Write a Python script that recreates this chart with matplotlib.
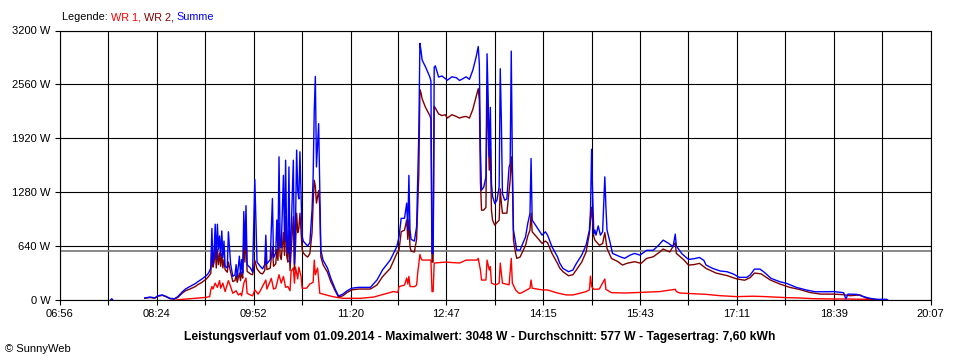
import numpy as np
import matplotlib
matplotlib.use("Agg")
import matplotlib.pyplot as plt

plt.rcParams['font.family'] = ['Liberation Sans', 'DejaVu Sans']
plt.rcParams['font.size'] = 8

# --- data (time, watt) ---
x_labels = ["06:56", "08:24", "09:52", "11:20", "12:47", "14:15",
            "15:43", "17:11", "18:39", "20:07"]
y_ticks = [0, 640, 1280, 1920, 2560, 3200]
average = 577

wr1 = [("08:42", 0), ("08:49", 10), ("08:59", 20), ("09:08", 30), ("09:12", 40),
       ("09:13", 120), ("09:14", 160), ("09:15", 130), ("09:17", 200), ("09:19", 150),
       ("09:21", 230), ("09:22", 140), ("09:24", 200), ("09:26", 100), ("09:29", 230),
       ("09:31", 160), ("09:33", 80), ("09:36", 110), ("09:38", 60), ("09:40", 80),
       ("09:41", 50), ("09:43", 200), ("09:45", 260), ("09:46", 80), ("09:49", 60),
       ("09:51", 50), ("09:53", 120), ("09:56", 70), ("09:58", 110), ("10:03", 237),
       ("10:04", 130), ("10:08", 257), ("10:10", 130), ("10:12", 140), ("10:15", 300),
       ("10:17", 200), ("10:19", 280), ("10:21", 150), ("10:23", 160), ("10:25", 110),
       ("10:26", 340), ("10:28", 380), ("10:29", 200), ("10:30", 390), ("10:32", 250),
       ("10:33", 390), ("10:35", 280), ("10:36", 140), ("10:40", 140), ("10:43", 190),
       ("10:46", 210), ("10:47", 474), ("10:48", 300), ("10:50", 380), ("10:51", 240),
       ("10:52", 80), ("10:58", 60), ("11:04", 39), ("11:13", 20), ("11:29", 20),
       ("11:41", 35), ("11:53", 79), ("11:59", 100), ("12:03", 90), ("12:04", 158),
       ("12:09", 178), ("12:11", 260), ("12:12", 190), ("12:13", 280), ("12:14", 160),
       ("12:18", 158), ("12:20", 178), ("12:21", 320), ("12:23", 541), ("12:24", 494),
       ("12:25", 474), ("12:33", 474), ("12:34", 100), ("12:35", 100), ("12:36", 439),
       ("12:46", 450), ("12:59", 439), ("13:05", 474), ("13:15", 474), ("13:16", 494),
       ("13:18", 356), ("13:19", 237), ("13:23", 237), ("13:24", 474), ("13:26", 356),
       ("13:27", 395), ("13:28", 200), ("13:32", 180), ("13:35", 200), ("13:36", 439),
       ("13:38", 200), ("13:44", 180), ("13:46", 494), ("13:47", 200), ("13:50", 119),
       ("13:53", 79), ("13:55", 83), ("14:00", 119), ("14:03", 140), ("14:04", 237),
       ("14:05", 140), ("14:14", 120), ("14:19", 119), ("14:28", 83), ("14:36", 60),
       ("14:42", 60), ("14:48", 79), ("14:54", 100), ("14:57", 120), ("14:58", 284),
       ("14:59", 160), ("15:01", 127), ("15:06", 130), ("15:11", 249), ("15:12", 127),
       ("15:17", 87), ("15:30", 83), ("15:52", 95), ("16:01", 100), ("16:15", 127),
       ("16:16", 100), ("16:19", 83), ("16:32", 75), ("16:43", 67), ("16:56", 51),
       ("17:11", 40), ("17:26", 45), ("17:37", 40), ("17:56", 28), ("18:08", 24),
       ("18:20", 16), ("18:39", 12), ("18:51", 12), ("19:09", 8), ("19:18", 0)]

wr2 = [("08:13", 20), ("08:18", 30), ("08:22", 20), ("08:25", 45), ("08:29", 55),
       ("08:32", 40), ("08:36", 15), ("08:40", 10), ("08:43", 30), ("08:47", 80),
       ("08:50", 110), ("08:54", 130), ("08:59", 160), ("09:01", 180), ("09:05", 210),
       ("09:09", 250), ("09:11", 280), ("09:13", 316), ("09:14", 630), ("09:15", 390),
       ("09:16", 450), ("09:17", 630), ("09:18", 380), ("09:19", 600), ("09:20", 420),
       ("09:21", 560), ("09:22", 400), ("09:23", 550), ("09:24", 380), ("09:25", 480),
       ("09:26", 360), ("09:28", 330), ("09:29", 450), ("09:31", 330), ("09:33", 220),
       ("09:35", 230), ("09:36", 300), ("09:37", 210), ("09:39", 320), ("09:40", 230),
       ("09:41", 330), ("09:42", 260), ("09:43", 700), ("09:44", 450), ("09:45", 830),
       ("09:46", 340), ("09:49", 310), ("09:51", 300), ("09:53", 470), ("09:55", 370),
       ("09:58", 320), ("10:00", 310), ("10:02", 350), ("10:03", 550), ("10:04", 360),
       ("10:07", 380), ("10:09", 630), ("10:10", 400), ("10:12", 430), ("10:13", 600),
       ("10:14", 470), ("10:15", 910), ("10:16", 520), ("10:17", 480), ("10:19", 800),
       ("10:20", 530), ("10:21", 990), ("10:22", 520), ("10:23", 450), ("10:24", 830),
       ("10:25", 350), ("10:26", 580), ("10:28", 990), ("10:29", 360), ("10:30", 650),
       ("10:31", 1030), ("10:32", 800), ("10:33", 850), ("10:34", 1030), ("10:36", 600),
       ("10:37", 560), ("10:39", 530), ("10:41", 510), ("10:43", 550), ("10:45", 800),
       ("10:46", 1150), ("10:47", 1422), ("10:48", 1350), ("10:49", 1150), ("10:51", 1300),
       ("10:52", 1100), ("10:53", 513), ("10:55", 420), ("10:59", 330), ("11:02", 220),
       ("11:06", 110), ("11:09", 35), ("11:13", 50), ("11:17", 90), ("11:21", 120),
       ("11:27", 130), ("11:33", 130), ("11:38", 130), ("11:44", 178), ("11:49", 276),
       ("11:56", 375), ("12:02", 553), ("12:04", 590), ("12:06", 810), ("12:09", 830),
       ("12:11", 950), ("12:12", 720), ("12:13", 950), ("12:14", 630), ("12:15", 580),
       ("12:18", 570), ("12:20", 720), ("12:21", 1106), ("12:22", 1500), ("12:23", 2497),
       ("12:24", 2460), ("12:25", 2390), ("12:28", 2290), ("12:32", 2190), ("12:33", 2150),
       ("12:34", 450), ("12:35", 450), ("12:36", 2300), ("12:37", 2280), ("12:40", 2210),
       ("12:43", 2190), ("12:46", 2200), ("12:48", 2160), ("12:52", 2200), ("12:56", 2180),
       ("12:59", 2160), ("13:01", 2170), ("13:05", 2180), ("13:08", 2160), ("13:11", 2260),
       ("13:14", 2410), ("13:16", 2509), ("13:17", 2370), ("13:18", 1400), ("13:19", 1067),
       ("13:21", 1067), ("13:23", 1100), ("13:24", 2530), ("13:25", 2015), ("13:26", 1541),
       ("13:27", 1800), ("13:28", 1067), ("13:29", 948), ("13:31", 889), ("13:33", 920),
       ("13:35", 948), ("13:36", 1320), ("13:37", 1146), ("13:38", 1031), ("13:42", 1031),
       ("13:44", 1300), ("13:45", 1422), ("13:46", 1700), ("13:47", 1461), ("13:48", 711),
       ("13:50", 553), ("13:51", 494), ("13:54", 510), ("13:59", 650), ("14:01", 760),
       ("14:03", 830), ("14:04", 1031), ("14:05", 810), ("14:09", 750), ("14:14", 672),
       ("14:17", 700), ("14:19", 680), ("14:23", 553), ("14:28", 435), ("14:30", 380),
       ("14:33", 336), ("14:38", 288), ("14:42", 300), ("14:45", 355), ("14:50", 450),
       ("14:54", 570), ("14:57", 790), ("14:59", 1100), ("15:01", 750), ("15:02", 711),
       ("15:06", 650), ("15:09", 670), ("15:11", 800), ("15:13", 613), ("15:17", 494),
       ("15:23", 455), ("15:27", 415), ("15:31", 435), ("15:38", 455), ("15:44", 435),
       ("15:49", 494), ("15:55", 513), ("16:01", 570), ("16:04", 605), ("16:10", 570),
       ("16:15", 680), ("16:16", 553), ("16:23", 474), ("16:27", 415), ("16:32", 420),
       ("16:37", 435), ("16:43", 375), ("16:52", 320), ("17:02", 290), ("17:11", 250),
       ("17:18", 235), ("17:23", 265), ("17:27", 320), ("17:33", 310), ("17:41", 240),
       ("17:50", 190), ("17:59", 150), ("18:08", 125), ("18:17", 90), ("18:27", 70),
       ("18:39", 70), ("18:48", 63), ("18:54", 51), ("19:03", 60), ("19:09", 20),
       ("19:18", 5), ("19:26", 0)]

summe = [("07:42", 0), ("07:43", 15), ("07:44", 0), ("07:45", None),
         ("08:13", 25), ("08:18", 35), ("08:22", 25), ("08:25", 50), ("08:29", 60),
         ("08:32", 45), ("08:36", 20), ("08:40", 15), ("08:43", 40), ("08:47", 95),
         ("08:50", 130), ("08:54", 160), ("08:59", 195), ("09:01", 215), ("09:05", 250),
         ("09:09", 290), ("09:11", 320), ("09:13", 380), ("09:14", 850), ("09:15", 420),
         ("09:16", 560), ("09:17", 900), ("09:18", 480), ("09:19", 900), ("09:20", 600),
         ("09:21", 760), ("09:22", 520), ("09:23", 820), ("09:24", 500), ("09:25", 700),
         ("09:26", 400), ("09:28", 380), ("09:29", 810), ("09:31", 430), ("09:33", 280),
         ("09:35", 300), ("09:36", 420), ("09:37", 270), ("09:39", 520), ("09:40", 300),
         ("09:41", 480), ("09:42", 320), ("09:43", 1050), ("09:44", 600), ("09:45", 1120),
         ("09:46", 420), ("09:49", 380), ("09:51", 330), ("09:53", 1430), ("09:55", 450),
         ("09:58", 400), ("10:00", 370), ("10:02", 420), ("10:03", 770), ("10:04", 430),
         ("10:07", 480), ("10:09", 1205), ("10:10", 500), ("10:12", 560), ("10:13", 950),
         ("10:14", 600), ("10:15", 1700), ("10:16", 680), ("10:17", 620), ("10:19", 1480),
         ("10:20", 700), ("10:21", 1660), ("10:22", 660), ("10:23", 560), ("10:24", 1580),
         ("10:25", 440), ("10:26", 800), ("10:28", 1660), ("10:29", 430), ("10:30", 900),
         ("10:31", 1780), ("10:32", 1300), ("10:33", 1200), ("10:34", 1760), ("10:36", 760),
         ("10:37", 700), ("10:39", 670), ("10:41", 640), ("10:43", 680), ("10:45", 1070),
         ("10:46", 1460), ("10:47", 2250), ("10:48", 2655), ("10:49", 1580), ("10:51", 2094),
         ("10:52", 1340), ("10:53", 590), ("10:55", 474), ("10:59", 380), ("11:02", 260),
         ("11:06", 130), ("11:09", 47), ("11:13", 70), ("11:17", 110), ("11:21", 140),
         ("11:27", 150), ("11:33", 150), ("11:38", 150), ("11:44", 237), ("11:49", 356),
         ("11:56", 474), ("12:02", 632), ("12:04", 750), ("12:06", 970), ("12:09", 970),
         ("12:11", 1150), ("12:12", 830), ("12:13", 1480), ("12:14", 830), ("12:15", 720),
         ("12:18", 700), ("12:20", 870), ("12:21", 1420), ("12:22", 1975), ("12:23", 3048),
         ("12:24", 2960), ("12:25", 2850), ("12:28", 2770), ("12:32", 2650), ("12:33", 2600),
         ("12:34", 553), ("12:35", 553), ("12:36", 2765), ("12:37", 2780), ("12:40", 2647),
         ("12:43", 2660), ("12:46", 2630), ("12:48", 2610), ("12:52", 2650), ("12:56", 2640),
         ("12:59", 2607), ("13:01", 2620), ("13:05", 2650), ("13:08", 2620), ("13:11", 2726),
         ("13:14", 2880), ("13:16", 3010), ("13:17", 2800), ("13:18", 1778), ("13:19", 1304),
         ("13:21", 1340), ("13:23", 1460), ("13:24", 2924), ("13:25", 2410), ("13:26", 1700),
         ("13:27", 2287), ("13:28", 1383), ("13:29", 1233), ("13:31", 1146), ("13:33", 1185),
         ("13:35", 1343), ("13:36", 2746), ("13:37", 2133), ("13:38", 1264), ("13:40", 1185),
         ("13:42", 1200), ("13:44", 1576), ("13:45", 1620), ("13:46", 2955), ("13:47", 1620),
         ("13:48", 830), ("13:50", 672), ("13:51", 593), ("13:54", 593), ("13:59", 750),
         ("14:01", 909), ("14:03", 1027), ("14:04", 1680), ("14:05", 950), ("14:09", 869),
         ("14:14", 770), ("14:17", 810), ("14:19", 770), ("14:23", 632), ("14:28", 513),
         ("14:30", 439), ("14:33", 375), ("14:38", 336), ("14:42", 356), ("14:45", 430),
         ("14:50", 533), ("14:54", 652), ("14:57", 830), ("14:58", 1067), ("14:59", 1790),
         ("15:00", 1230), ("15:01", 790), ("15:02", 830), ("15:03", 770), ("15:05", 880),
         ("15:07", 770), ("15:09", 810), ("15:11", 1462), ("15:12", 1106), ("15:13", 830),
         ("15:16", 672), ("15:18", 553), ("15:25", 513), ("15:29", 495), ("15:34", 533),
         ("15:38", 553), ("15:43", 533), ("15:49", 590), ("15:55", 590), ("16:00", 652),
         ("16:04", 711), ("16:09", 672), ("16:13", 632), ("16:15", 782), ("16:16", 640),
         ("16:21", 550), ("16:27", 482), ("16:32", 490), ("16:37", 505), ("16:41", 470),
         ("16:43", 415), ("16:49", 375), ("16:56", 344), ("17:02", 336), ("17:08", 308),
         ("17:13", 269), ("17:20", 269), ("17:23", 296), ("17:27", 367), ("17:32", 367),
         ("17:36", 328), ("17:42", 257), ("17:50", 217), ("17:56", 198), ("18:05", 150),
         ("18:14", 119), ("18:22", 98), ("18:33", 98), ("18:39", 100), ("18:48", 87),
         ("18:50", 12), ("18:52", 70), ("19:00", 67), ("19:06", 40), ("19:12", 20),
         ("19:18", 8), ("19:27", 8), ("19:28", 0)]

title = ("Leistungsverlauf vom 01.09.2014 - Maximalwert: 3048 W - "
         "Durchschnitt: 577 W - Tagesertrag: 7,60 kWh")


def minutes(hhmm):
    h, m = hhmm.split(":")
    return int(h) * 60 + int(m)


def series(pairs):
    t = np.array([minutes(p[0]) for p in pairs], dtype=float)
    w = np.array([np.nan if p[1] is None else p[1] for p in pairs], dtype=float)
    return t, w


fig = plt.figure(figsize=(9.6, 3.6), dpi=100)
ax = fig.add_axes([60 / 960, 60 / 360, 870.6 / 960, 269.5 / 360])

for pairs, col in [(wr1, "#ff0000"), (wr2, "#800000"), (summe, "#0000ff")]:
    t, w = series(pairs)
    ax.plot(t, w, color=col, lw=1.0)

ax.axhline(average, color="#808080", lw=1.3, zorder=1.5)

major = [minutes(s) for s in x_labels]
minor = [(a + b) / 2 for a, b in zip(major[:-1], major[1:])]
ax.set_xlim(major[0], major[-1])
ax.set_ylim(0, 3200)
ax.set_xticks(major)
ax.set_xticklabels(x_labels)
ax.set_xticks(minor, minor=True)
ax.set_yticks(y_ticks)
ax.set_yticklabels([f"{v} W" for v in y_ticks])

ax.set_axisbelow(True)
ax.grid(True, which="both", color="black", lw=0.8)
ax.tick_params(which="both", direction="out", length=3.8, width=0.8,
               color="black", labelsize=8, pad=3)
for sp in ax.spines.values():
    sp.set_color("black")
    sp.set_linewidth(0.8)

fig.text(0.5, (360 - 337) / 360, title, ha="center", va="center",
         fontweight="bold", fontsize=8.7)
fig.text(5 / 960, (360 - 349) / 360, "\u00a9 SunnyWeb", va="center", fontsize=8)

# multicolour legend line at the top
fig.canvas.draw()
renderer = fig.canvas.get_renderer()
x = 62
for txt, col in [("Legende: ", "black"), ("WR 1, ", "#ff0000"),
                 ("WR 2, ", "#800000"), ("Summe", "#0000ff")]:
    t = fig.text(x / 960, (360 - 17) / 360, txt, color=col, va="center", fontsize=7.8)
    bb = t.get_window_extent(renderer)
    x += bb.width

fig.savefig("out.png", dpi=100)
